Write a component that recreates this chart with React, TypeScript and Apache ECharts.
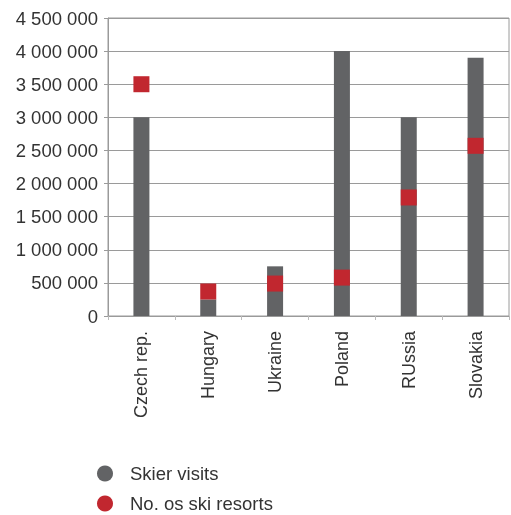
import React, { useEffect, useRef } from "react";
import * as echarts from "echarts";

const categories = ["Czech rep.", "Hungary", "Ukraine", "Poland", "RUssia", "Slovakia"];
const skierVisits = [3000000, 250000, 750000, 4000000, 3000000, 3900000];
const skiResorts = [3500000, 370000, 490000, 580000, 1790000, 2570000];
const seriesNames = ["Skier visits", "No. os ski resorts"];

const fmt = (v: number) => String(v).replace(/\B(?=(\d{3})+(?!\d))/g, " ");

export default function App() {
  const ref = useRef<HTMLDivElement>(null);
  useEffect(() => {
    if (!ref.current) return;
    const chart = echarts.init(ref.current, null, { renderer: "svg" });
    const font = "'Liberation Sans', Arial, Helvetica, sans-serif";
    const textColor = "#333333";
    chart.setOption({
      animation: false,
      textStyle: { fontFamily: font },
      grid: {
        left: 108,
        right: 2,
        top: 18,
        bottom: 199,
        show: true,
        borderColor: "#9a9a9a",
        borderWidth: 1,
        outerBoundsMode: "none",
      },
      legend: {
        orient: "vertical",
        left: 97,
        top: 464,
        height: 100,
        padding: 0,
        itemWidth: 16,
        itemHeight: 16,
        itemGap: 11,
        textStyle: { fontSize: 18.5, lineHeight: 16, color: textColor, fontFamily: font, padding: [0, 0, 0, 12] },
        data: [
          { name: seriesNames[0], icon: "circle" },
          { name: seriesNames[1], icon: "circle" },
        ],
      },
      xAxis: {
        type: "category",
        data: categories,
        boundaryGap: true,
        axisLine: { lineStyle: { color: "#9a9a9a", width: 1 } },
        axisTick: { show: true, length: 4, inside: false, lineStyle: { color: "#bbbbbb" } },
        axisLabel: { rotate: 90, margin: 15, fontSize: 18, color: textColor, fontFamily: font },
      },
      yAxis: {
        type: "value",
        min: 0,
        max: 4500000,
        interval: 500000,
        axisLine: { show: true, lineStyle: { color: "#9a9a9a", width: 1 } },
        axisTick: { show: true, length: 4, lineStyle: { color: "#9a9a9a" } },
        splitLine: { show: true, lineStyle: { color: "#9a9a9a", width: 1 } },
        axisLabel: { fontSize: 18.5, color: textColor, margin: 10, fontFamily: font, formatter: (v: number) => fmt(v) },
      },
      series: [
        {
          name: seriesNames[0],
          type: "bar",
          data: skierVisits,
          barWidth: 16,
          itemStyle: { color: "#626365" },
        },
        {
          name: seriesNames[1],
          type: "scatter",
          data: skiResorts,
          symbol: "rect",
          symbolSize: [16, 16],
          itemStyle: { color: "#c1272f", opacity: 1 },
          z: 3,
        },
      ],
    });
    return () => chart.dispose();
  }, []);
  return <div ref={ref} style={{ position: "fixed", left: 0, top: 0, width: 511, height: 515 }} />;
}
